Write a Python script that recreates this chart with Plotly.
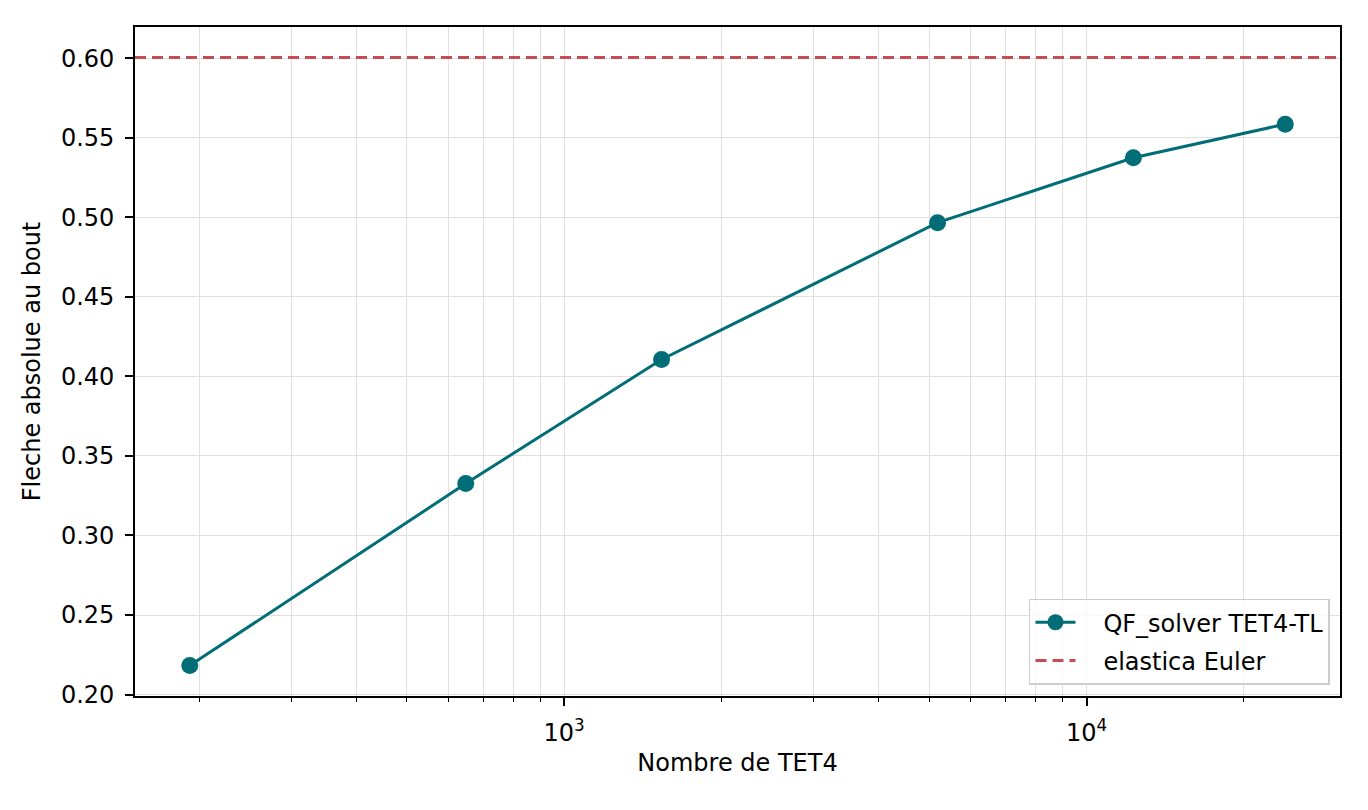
import plotly.graph_objects as go
import numpy as np

# Data
n_tet4 = [192, 648, 1536, 5184, 12288, 24000]
fleche = [0.2182, 0.3326, 0.4106, 0.4966, 0.5374, 0.5585]
elastica_euler = 0.6005

series_name = "QF_solver TET4-TL"
ref_name = "elastica Euler"
x_title = "Nombre de TET4"
y_title = "Fleche absolue au bout"

major_x = [1000, 10000]
major_x_text = ["10<sup>3</sup>", "10<sup>4</sup>"]
minor_x = [200, 300, 400, 500, 600, 700, 800, 900,
           2000, 3000, 4000, 5000, 6000, 7000, 8000, 9000, 20000]
y_ticks = [0.20, 0.25, 0.30, 0.35, 0.40, 0.45, 0.50, 0.55, 0.60]

TEAL = "#006d77"
RED = "#c44e52"
FONT = "DejaVu Sans"
FS = 24
GRID = "#e0e0e0"
PAD = "\u00a0" * 3  # extra gap between legend symbol and label

# axis ranges: matplotlib-like 5% margins
lx = np.log10(n_tet4)
xpad = 0.05 * (lx.max() - lx.min())
ymin = min(fleche)
ymax = max(max(fleche), elastica_euler)
ypad = 0.05 * (ymax - ymin)

fig = go.Figure()
fig.add_trace(go.Scatter(
    x=n_tet4, y=fleche, mode="lines+markers", name=PAD + series_name,
    line=dict(color=TEAL, width=3),
    marker=dict(color=TEAL, size=17),
    legendrank=1, legendgroup="a",
))
fig.add_shape(
    type="line", xref="x domain", yref="y", x0=0, x1=1,
    y0=elastica_euler, y1=elastica_euler,
    line=dict(color=RED, width=3, dash="11px,6px"),
    showlegend=True, name=PAD + ref_name, legendrank=2, legendgroup="b",
)

fig.update_layout(
    width=1360, height=802,
    margin=dict(l=127, r=28, t=19, b=114),
    paper_bgcolor="white", plot_bgcolor="white",
    font=dict(family=FONT, size=FS, color="black"),
    showlegend=True,
    legend=dict(
        x=0.9917, y=0.017, xanchor="right", yanchor="bottom",
        bgcolor="rgba(255,255,255,0.8)", bordercolor="#cccccc", borderwidth=1.5,
        font=dict(family=FONT, size=FS, color="black"),
        itemwidth=40, tracegroupgap=4, traceorder="grouped",
    ),
)
fig.update_xaxes(
    type="log",
    range=[lx.min() - xpad, lx.max() + xpad],
    tickmode="array", tickvals=major_x, ticktext=major_x_text,
    ticks="outside", ticklen=8, tickwidth=1.6, tickcolor="black",
    showline=True, linecolor="black", linewidth=1.6, mirror=True,
    showgrid=True, gridcolor=GRID, gridwidth=1.3,
    minor=dict(tickmode="array", tickvals=minor_x, ticks="outside", ticklen=4.5,
               tickwidth=1.2, tickcolor="black", showgrid=True,
               gridcolor=GRID, gridwidth=1.3),
    title=dict(text=x_title, standoff=9, font=dict(family=FONT, size=FS)),
    ticklabelstandoff=6,
    zeroline=False,
)
fig.update_yaxes(
    range=[ymin - ypad, ymax + ypad],
    tickmode="array", tickvals=y_ticks, ticktext=[f"{v:.2f}" for v in y_ticks],
    ticks="outside", ticklen=8, tickwidth=1.6, tickcolor="black",
    showline=True, linecolor="black", linewidth=1.6, mirror=True,
    showgrid=True, gridcolor=GRID, gridwidth=1.3,
    title=dict(text=y_title, standoff=14, font=dict(family=FONT, size=FS)),
    ticklabelstandoff=6,
    zeroline=False,
)

fig.write_html("out.html")
